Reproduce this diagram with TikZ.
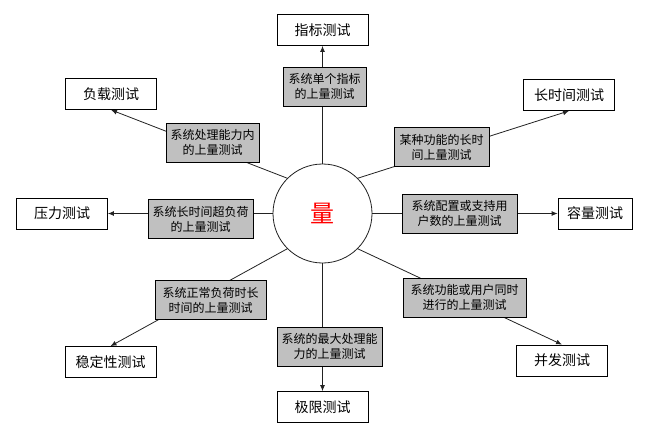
\documentclass[tikz,border=0pt]{standalone}
\usepackage{fontspec}
\setmainfont{Noto Sans CJK SC}
\usetikzlibrary{arrows.meta}
\definecolor{qtyEdge}{HTML}{222222}
\definecolor{qtyLabel}{HTML}{C0C0C0}
\definecolor{qtyRed}{HTML}{FF0000}
\tikzset{
  qtytest/.style={draw=black,line width=0.8pt,fill=white,minimum width=91pt,minimum height=31pt,
                  inner sep=2pt,font=\fontsize{14}{16}\selectfont},
  qtybound/.style={draw=black,line width=0.8pt,fill=qtyLabel,minimum height=39pt,inner sep=2pt,
                   align=center,font=\fontsize{12}{15}\selectfont},
  qtyspoke/.style={-{Latex[length=6pt,width=5pt]},draw=qtyEdge,line width=0.8pt},
}

\begin{document}
\begin{tikzpicture}[x=1pt,y=1pt]
  \useasboundingbox (0,0) rectangle (661,-439);

  % Centre.
  \node[circle,draw=qtyEdge,line width=0.8pt,fill=white,minimum size=99pt,inner sep=0pt,
        text=qtyRed,font=\fontsize{24}{24}\selectfont] (Q) at (322.5,-213.5) {量};

  % Kinds of test, round the centre.
  \node[qtytest] (T1) at (322.5,-30)   {指标测试};
  \node[qtytest] (T2) at (111,-94)     {负载测试};
  \node[qtytest] (T3) at (569,-95)     {长时间测试};
  \node[qtytest] (T4) at (62,-213.5)   {压力测试};
  \node[qtytest,minimum width=74pt] (T5) at (595,-213.5) {容量测试};
  \node[qtytest] (T6) at (110.5,-362)  {稳定性测试};
  \node[qtytest] (T7) at (322.5,-407)  {极限测试};
  \node[qtytest] (T8) at (562,-360.5)  {并发测试};

  \draw[qtyspoke] (Q.north) -- (T1.south);
  \draw[qtyspoke] (Q.135)   -- (T2.south);
  \draw[qtyspoke] (Q.45)    -- (T3.south);
  \draw[qtyspoke] (Q.west)  -- (T4.east);
  \draw[qtyspoke] (Q.east)  -- (T5.west);
  \draw[qtyspoke] (Q.225)   -- (T6.north);
  \draw[qtyspoke] (Q.south) -- (T7.north);
  \draw[qtyspoke] (Q.315)   -- (T8.north);

  % Grey cards sit on the spokes.
  \node[qtybound,minimum width=83pt]  (B1) at (324.5,-86.5)  {系统单个指标\\的上量测试};
  \node[qtybound,minimum width=93pt]  (B2) at (212.5,-142.5) {系统处理能力内\\的上量测试};
  \node[qtybound,minimum width=95pt]  (B3) at (441.5,-147)   {某种功能的长时\\间上量测试};
  \node[qtybound,minimum width=105pt] (B4) at (200.5,-219)   {系统长时间超负荷\\的上量测试};
  \node[qtybound,minimum width=115pt] (B5) at (459.5,-213.5) {系统配置或支持用\\户数的上量测试};
  \node[qtybound,minimum width=111pt] (B6) at (210.5,-300)   {系统正常负荷时长\\时间的上量测试};
  \node[qtybound,minimum width=105pt] (B7) at (329.5,-346.5) {系统的最大处理能\\力的上量测试};
  \node[qtybound,minimum width=123pt] (B8) at (464.5,-297.5) {系统功能或用户同时\\进行的上量测试};
\end{tikzpicture}
\end{document}
